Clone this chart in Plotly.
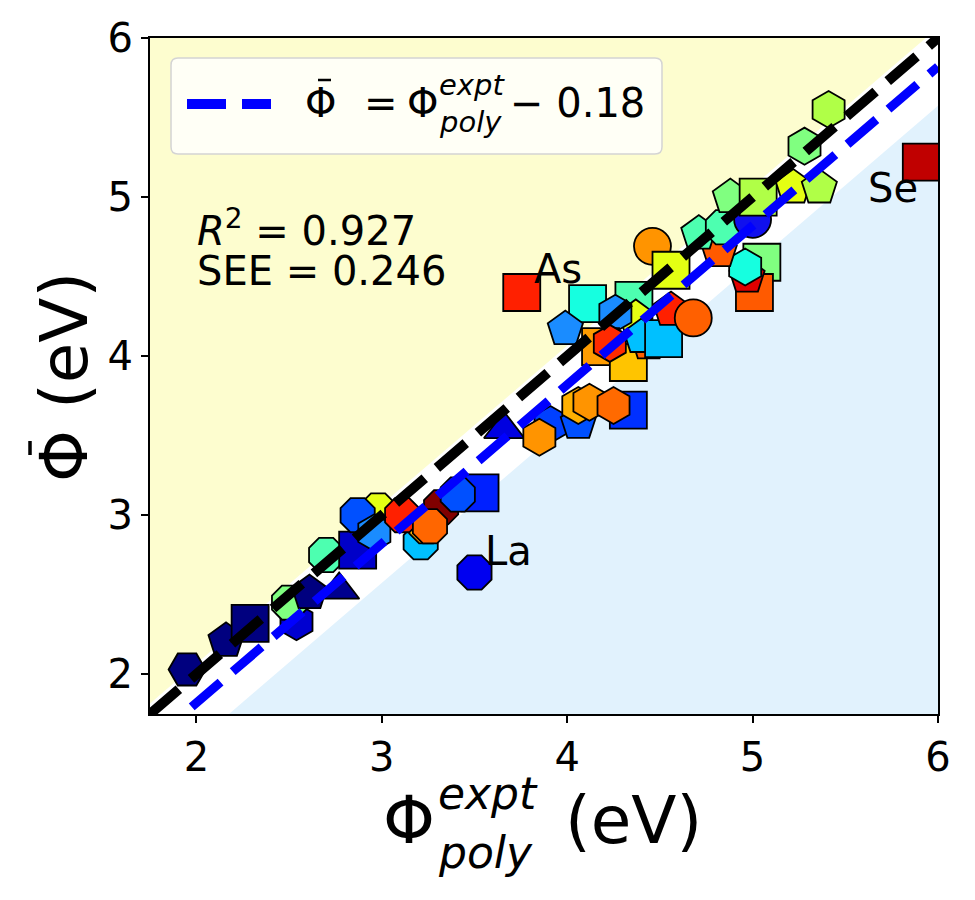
import plotly.graph_objects as go

# ---------------- data ----------------
phi_expt = [1.95, 2.16, 2.29, 2.54, 2.50, 2.61, 2.77, 2.70, 2.87, 2.98, 2.87, 2.96,
            3.21, 3.24, 3.32, 3.11, 3.26, 3.53, 3.41, 3.50, 3.66,
            3.91, 3.85, 4.06, 4.06, 4.12, 4.33, 4.25,
            3.755, 4.11, 4.36, 3.99, 4.37, 4.26, 4.18, 4.33, 4.23, 4.44, 4.40, 4.52,
            4.56, 4.68, 4.46, 4.56,
            5.05, 5.01, 4.97, 4.96, 4.82, 4.71, 4.84, 5.00, 4.88, 5.03, 5.22, 5.36,
            5.28, 5.41, 5.91]
phi_bar = [2.03, 2.21, 2.32, 2.33, 2.45, 2.51, 2.53, 2.75, 2.78, 3.03, 3.00, 2.89,
           2.83, 2.93, 3.05, 3.00, 2.93, 3.14, 3.13, 2.64, 3.54,
           3.57, 3.49, 3.58, 3.69, 3.71, 3.66, 3.69,
           4.40, 4.33, 4.35, 4.17, 4.24, 4.27, 4.06, 3.96, 4.08, 4.08, 4.12, 4.11,
           4.29, 4.24, 4.69, 4.54,
           4.59, 4.40, 4.50, 4.56, 4.66, 4.77, 4.81, 4.86, 5.00, 5.00, 5.06, 5.06,
           5.32, 5.55, 5.22]
symbols = ["hexagon2", "pentagon", "square", "hexagon", "octagon", "pentagon", "triangle-up",
           "octagon", "square", "octagon", "octagon", "hexagon",
           "octagon", "octagon", "octagon", "octagon", "octagon", "square", "octagon", "octagon",
           "triangle-up",
           "hexagon", "hexagon", "pentagon", "hexagon", "hexagon", "square", "hexagon",
           "square", "square", "square", "pentagon", "pentagon", "hexagon", "square", "square",
           "hexagon", "pentagon", "pentagon", "square",
           "pentagon", "circle", "circle", "square",
           "square", "square", "pentagon", "hexagon", "pentagon", "pentagon", "octagon", "circle",
           "pentagon", "square", "pentagon", "pentagon",
           "hexagon", "hexagon", "square"]
colors = ["#00007f", "#00007f", "#00007f", "#0000d0", "#80ff80", "#00007f", "#00008f",
          "#4dffb0", "#0000c8", "#e4ff13", "#0050ff", "#1a8cff",
          "#00c0ff", "#ffb000", "#800000", "#ff2000", "#ff6600", "#0020ff", "#0050ff", "#0000f0",
          "#0000e0",
          "#0040ff", "#ff9400", "#0050ff", "#ffb000", "#ff9400", "#0030ff", "#ff6a00",
          "#ff2000", "#16ffe0", "#4dffb0", "#1a8cff", "#e4ff13", "#1a8cff", "#ff9c00", "#ffc400",
          "#ff2a00", "#ff6000", "#00c0ff", "#00c0ff",
          "#ff2000", "#ff6000", "#ff9400", "#e4ff13",
          "#80ff80", "#ff5a00", "#e00000", "#16ffe0", "#ff5a00", "#4dffb0", "#4dffb0", "#1010ee",
          "#80ff80", "#b0ff47", "#e4ff13", "#b0ff47",
          "#80ff80", "#b0ff47", "#c00000"]
sizes = [37 if s != "triangle-up" else 35 for s in symbols]

labels = ["As", "Se", "La"]
label_px = [(532, 269), (866, 188), (483, 551)]  # text left/center positions (pixels)

shift = 0.18      # fitted offset
see = 0.246
r2 = 0.927
ax_min, ax_max = 1.75, 6.0
fit_xmin = 1.975
tick_vals = [2, 3, 4, 5, 6]

# ---------------- geometry helpers ----------------
W, H = 975, 900
L, R, T, B = 150, 37, 38, 186
PW, PH = W - L - R, H - T - B
FONT = "DejaVu Sans"


def px(xp):
    return (xp - L) / PW


def py(yp):
    return (T + PH - yp) / PH


fig = go.Figure()

# background bands
up = -shift + see
lo = -shift - see
fig.add_trace(go.Scatter(x=[ax_min, ax_max - up, ax_min], y=[ax_min + up, ax_max, ax_max],
                         fill="toself", fillcolor="#fdfdcf", mode="none", hoverinfo="skip"))
fig.add_trace(go.Scatter(x=[ax_min - lo, ax_max, ax_max], y=[ax_min, ax_max + lo, ax_min],
                         fill="toself", fillcolor="#e1f2fd", mode="none", hoverinfo="skip"))

# markers
fig.add_trace(go.Scatter(x=phi_expt, y=phi_bar, mode="markers",
                         marker=dict(symbol=symbols, color=colors, size=sizes,
                                     line=dict(color="black", width=1.8), opacity=1),
                         hoverinfo="skip"))

# y = x line
fig.add_trace(go.Scatter(x=[ax_min, ax_max], y=[ax_min, ax_max], mode="lines",
                         line=dict(color="black", width=10, dash="38px,16px"), hoverinfo="skip"))
# fit line
fig.add_trace(go.Scatter(x=[fit_xmin, ax_max], y=[fit_xmin - shift, ax_max - shift], mode="lines",
                         line=dict(color="#0000ff", width=9, dash="38px,16px"), hoverinfo="skip"))

ann = []


def text(xp, yp, t, size, xanchor="left", yanchor="middle", angle=0):
    ann.append(dict(x=px(xp), y=py(yp), xref="paper", yref="paper", text=t, showarrow=False,
                    xanchor=xanchor, yanchor=yanchor, textangle=angle,
                    font=dict(family=FONT, size=size, color="black")))


# legend box (custom)
x0, x1, y0, y1 = px(171), px(662), py(154), py(58)
rx, ry = 7 / PW, 7 / PH
path = (f"M {x0+rx},{y1} L {x1-rx},{y1} Q {x1},{y1} {x1},{y1-ry} L {x1},{y0+ry} "
        f"Q {x1},{y0} {x1-rx},{y0} L {x0+rx},{y0} Q {x0},{y0} {x0},{y0+ry} "
        f"L {x0},{y1-ry} Q {x0},{y1} {x0+rx},{y1} Z")
shapes = [dict(type="path", path=path, xref="paper", yref="paper",
               fillcolor="rgba(255,255,255,0.8)", line=dict(color="#d4d4d4", width=1.5)),
          dict(type="line", xref="paper", yref="paper", x0=px(187), x1=px(271), y0=py(104), y1=py(104),
               line=dict(color="#0000ff", width=10, dash="39px,16px")),
          # macron over legend Phi
          dict(type="line", xref="paper", yref="paper", x0=px(318), x1=px(331), y0=py(80), y1=py(80),
               line=dict(color="black", width=2.5)),
          # macron over y-title Phi (rotated)
          dict(type="line", xref="paper", yref="paper", x0=px(30), x1=px(30), y0=py(441), y1=py(455),
               line=dict(color="black", width=3.5)),
          ]

text(320, 103, "Φ", 40, xanchor="center")
text(362, 103, "=", 40)
text(405, 103, "Φ", 40)
text(437, 85, "<i>expt</i>", 29)
text(437, 122, "<i>poly</i>", 29)
text(508, 103, f"− {shift:.2f}", 40)

# stats
text(195, 228, f"<i>R</i><sup>2</sup> = {r2:.3f}", 40)
text(195, 271, f"SEE = {see:.3f}", 40)

# element labels
for lab, (lx, ly) in zip(labels, label_px):
    text(lx, ly, lab, 40)

# x-axis title
text(381, 820, "Φ", 66)
text(436, 793, "<i>expt</i>", 44)
text(436, 852, "<i>poly</i>", 44)
text(563, 820, "(eV)", 66)

# y-axis title
text(64, 377, "Φ (eV)", 66, xanchor="center", angle=-90)

axis_common = dict(range=[ax_min, ax_max], tickvals=tick_vals, ticks="outside", ticklen=7, tickwidth=2,
                   tickcolor="black", showline=True, linecolor="black", linewidth=2, mirror=True,
                   showgrid=False, zeroline=False,
                   tickfont=dict(family=FONT, size=40, color="black"))

fig.update_layout(width=W, height=H, margin=dict(l=L, r=R, t=T, b=B, autoexpand=False),
                  paper_bgcolor="white", plot_bgcolor="white", showlegend=False,
                  xaxis=dict(**axis_common), yaxis=dict(**axis_common),
                  annotations=ann, shapes=shapes, font=dict(family=FONT))

fig.write_html("out.html")
